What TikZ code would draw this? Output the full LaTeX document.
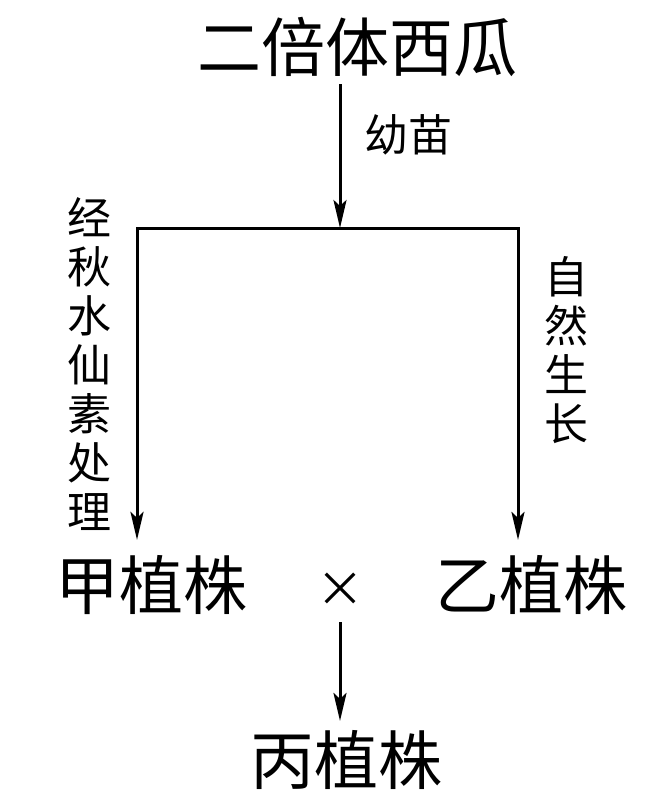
\documentclass[tikz,border=0pt]{standalone}
\usepackage{fontspec}
\newfontfamily\cjk{Noto Sans CJK SC}
\usetikzlibrary{arrows.meta, positioning}

\begin{document}
\begin{tikzpicture}[
    x=1pt, y=-1pt, line width=3pt,
    >={Stealth[length=28pt, width=13pt, inset=6pt]},
    big/.style={inner sep=0pt, font=\cjk\fontsize{64}{64}\selectfont},
    lab/.style={inner sep=0pt, align=center, font=\cjk\fontsize{44}{49}\selectfont}
  ]
  \useasboundingbox (0,0) rectangle (645,808);
  % top and the fork
  \node[big] (melon) at (357,47) {二倍体西瓜};
  \coordinate (fork) at (340,228);
  \coordinate (lt) at (137,228);
  \coordinate (rt) at (518,228);
  \draw[->, shorten <=6pt] (melon.south -| fork) -- (fork);
  \node[lab] (seed) at (408,135) {幼苗};

  % the two plants
  \node[big] (jia) at (151,585) {甲植株};
  \node[big] (yi) at (531,585) {乙植株};
  \node[font=\cjk\fontsize{48}{48}\selectfont, inner sep=0pt] (cross) at (340,590) {×};
  \draw[->, shorten >=14pt] (fork) -- (lt) -- (lt |- jia.north);
  \draw[->, shorten >=14pt] (fork) -- (rt) -- (rt |- yi.north);
  \node[lab] (treat) at (89,364) {经\\秋\\水\\仙\\素\\处\\理};
  \node[lab] (grow) at (566,350) {自\\然\\生\\长};

  % offspring
  \node[big] (bing) at (346,760) {丙植株};
  \draw[->, shorten <=14pt, shorten >=8pt] (cross) -- (cross |- bing.north);
\end{tikzpicture}
\end{document}
